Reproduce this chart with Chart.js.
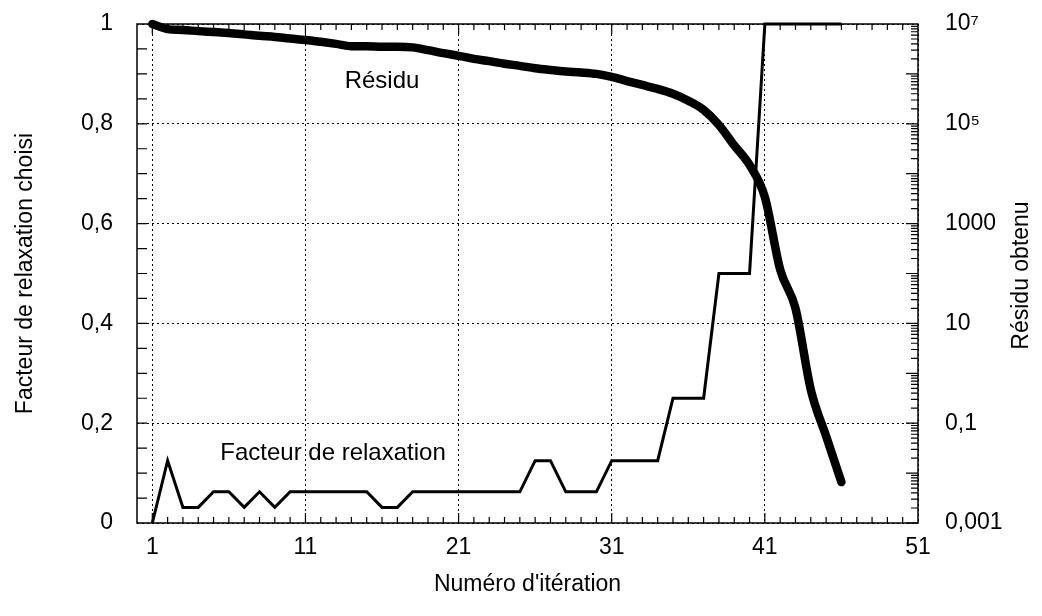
<!DOCTYPE html>
<html>
<head>
<meta charset="utf-8">
<script src="https://cdn.jsdelivr.net/npm/chart.js@4.4.0/dist/chart.umd.min.js"></script>
<style>
  html, body { margin: 0; padding: 0; background: #fff; }
  #wrap { width: 1042px; height: 616px; position: relative; }
</style>
</head>
<body>
<div id="wrap"><canvas id="c" width="1042" height="616"></canvas></div>
<script>
// ---- Data ----
const iterations = [1,2,3,4,5,6,7,8,9,10,11,12,13,14,15,16,17,18,19,20,21,22,23,24,25,26,27,28,29,30,31,32,33,34,35,36,37,38,39,40,41,42,43,44,45,46];
const relaxationFactor = [0,0.125,0.03125,0.03125,0.0625,0.0625,0.03125,0.0625,0.03125,0.0625,
  0.0625,0.0625,0.0625,0.0625,0.0625,0.03125,0.03125,0.0625,0.0625,0.0625,
  0.0625,0.0625,0.0625,0.0625,0.0625,0.125,0.125,0.0625,0.0625,0.0625,
  0.125,0.125,0.125,0.125,0.25,0.25,0.25,0.5,0.5,0.5,
  1,1,1,1,1,1];
const residual = [1.0e7,7.9e6,7.6e6,7.2e6,6.9e6,6.6e6,6.2e6,5.8e6,5.5e6,5.1e6,
  4.8e6,4.4e6,4.0e6,3.6e6,3.6e6,3.5e6,3.5e6,3.4e6,3.0e6,2.6e6,
  2.3e6,2.0e6,1.8e6,1.6e6,1.45e6,1.3e6,1.2e6,1.12e6,1.07e6,1.0e6,
  8.7e5,7.2e5,6.0e5,5.0e5,4.0e5,2.9e5,1.9e5,9.5e4,3.7e4,1.5e4,
  3.4e3,120,20,0.47,0.055,0.0066];
const xTickValues = [1,11,21,31,41,51];
const leftTickValues = [0,0.2,0.4,0.6,0.8,1];
const leftTickLabels = ['0','0,2','0,4','0,6','0,8','1'];
const rightTickValues = [1e-3,1e-1,1e1,1e3,1e5,1e7];
const rightTickLabels = ['0,001','0,1','10','1000','10\u2075','10\u2077'];
const xTitle = "Numéro d'itération";
const leftTitle = 'Facteur de relaxation choisi';
const rightTitle = 'Résidu obtenu';
const residualLabel = 'Résidu';
const factorLabel = 'Facteur de relaxation';

const FONT = "'Liberation Sans', Arial, Helvetica, sans-serif";
const FS = 23;
const FS_IN = 24;

const noPad = s => { s.paddingTop = 0; s.paddingBottom = 0; s.paddingLeft = 0; s.paddingRight = 0; };

const framePlugin = {
  id: 'frame',
  beforeDatasetsDraw(chart) {
    const ctx = chart.ctx;
    const a = chart.chartArea;
    const x = chart.scales.x, y = chart.scales.y, y2 = chart.scales.y2;
    ctx.save();
    ctx.strokeStyle = '#000';
    ctx.lineWidth = 1.5;
    ctx.strokeRect(a.left, a.top, a.right - a.left, a.bottom - a.top);
    ctx.lineWidth = 1.2;
    ctx.beginPath();
    for (let i = 1; i <= 50; i++) {
      const px = x.getPixelForValue(i);
      const len = (i % 10 === 1) ? 10 : 6;
      ctx.moveTo(px, a.bottom); ctx.lineTo(px, a.bottom - len);
      ctx.moveTo(px, a.top); ctx.lineTo(px, a.top + len);
    }
    for (let k = 1; k < 20; k++) {
      const py = y.getPixelForValue(k * 0.05);
      ctx.moveTo(a.left, py); ctx.lineTo(a.left + 10, py);
    }
    for (let d = -3; d < 7; d++) {
      for (let m = 1; m <= 9; m++) {
        const v = m * Math.pow(10, d);
        const py = y2.getPixelForValue(v);
        const len = m === 1 ? 12 : 7;
        ctx.moveTo(a.right, py); ctx.lineTo(a.right - len, py);
      }
    }
    ctx.stroke();
    ctx.restore();
  },
  afterDraw(chart) {
    const ctx = chart.ctx;
    const x = chart.scales.x, y = chart.scales.y;
    ctx.save();
    ctx.fillStyle = '#000';
    ctx.font = FS_IN + 'px ' + FONT;
    ctx.textAlign = 'center';
    ctx.textBaseline = 'middle';
    ctx.fillText(residualLabel, x.getPixelForValue(16), y.getPixelForValue(0.885));
    ctx.fillText(factorLabel, x.getPixelForValue(12.8), y.getPixelForValue(0.14));
    ctx.font = FS + 'px ' + FONT;
    ctx.translate(1022, (chart.chartArea.top + chart.chartArea.bottom) / 2 + 2);
    ctx.rotate(-Math.PI / 2);
    ctx.fillText(rightTitle, 0, 0);
    ctx.restore();
  }
};

new Chart(document.getElementById('c'), {
  type: 'line',
  data: {
    datasets: [
      {
        label: factorLabel,
        data: iterations.map((it, i) => ({ x: it, y: relaxationFactor[i] })),
        yAxisID: 'y',
        borderColor: '#000',
        borderWidth: 3,
        pointRadius: 0,
        tension: 0,
        clip: false,
        borderJoinStyle: 'miter'
      },
      {
        label: residualLabel,
        data: iterations.map((it, i) => ({ x: it, y: residual[i] })),
        yAxisID: 'y2',
        borderColor: '#000',
        borderWidth: 8.5,
        pointRadius: 0,
        cubicInterpolationMode: 'monotone',
        borderCapStyle: 'round',
        borderJoinStyle: 'round',
        clip: false
      }
    ]
  },
  options: {
    responsive: false,
    animation: false,
    events: [],
    layout: { padding: { top: 24, left: 0, right: 0, bottom: 0 } },
    plugins: { legend: { display: false }, tooltip: { enabled: false } },
    scales: {
      x: {
        type: 'linear',
        position: 'bottom',
        min: 0, max: 51,
        afterBuildTicks: s => { s.ticks = xTickValues.map(v => ({ value: v })); },
        afterFit: s => { s.height = 93; noPad(s); },
        ticks: { color: '#000', font: { family: FONT, size: FS }, padding: 11, maxRotation: 0, autoSkip: false,
                 callback: v => String(v) },
        grid: { color: '#000', lineWidth: 1, drawTicks: false },
        border: { display: false, dash: [2, 3] },
        title: { display: true, text: xTitle, color: '#000', font: { family: FONT, size: FS }, padding: { top: 0, bottom: 18 } }
      },
      y: {
        type: 'linear',
        position: 'left',
        min: 0, max: 1,
        afterBuildTicks: s => { s.ticks = leftTickValues.map(v => ({ value: v })); },
        afterFit: s => { s.width = 137; noPad(s); },
        ticks: { color: '#000', font: { family: FONT, size: FS }, padding: 24, autoSkip: false,
                 callback: (v, i) => leftTickLabels[i] },
        grid: { color: '#000', lineWidth: 1, drawTicks: false },
        border: { display: false, dash: [2, 3] },
        title: { display: true, text: leftTitle, color: '#000', font: { family: FONT, size: FS }, padding: { top: 12, bottom: 0 } }
      },
      y2: {
        type: 'logarithmic',
        position: 'right',
        min: 1e-3, max: 1e7,
        afterBuildTicks: s => { s.ticks = rightTickValues.map(v => ({ value: v })); },
        afterFit: s => { s.width = 124; noPad(s); },
        ticks: { color: '#000', font: { family: FONT, size: FS }, padding: 27, autoSkip: false,
                 callback: (v, i) => rightTickLabels[i] },
        grid: { display: false, drawTicks: false },
        border: { display: false }
      }
    }
  },
  plugins: [framePlugin]
});
</script>
</body>
</html>
